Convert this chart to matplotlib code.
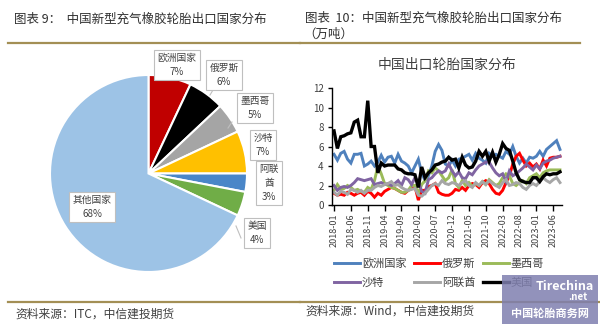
import numpy as np
import pandas as pd
import matplotlib
matplotlib.use('Agg')
import matplotlib.pyplot as plt
from matplotlib.patches import Rectangle
from matplotlib.lines import Line2D

plt.rcParams['font.family'] = ['Noto Sans CJK SC', 'DejaVu Sans']

W, H = 600, 324

# ---- pie data (图表9)
pie_names = ['欧洲国家', '俄罗斯', '墨西哥', '沙特', '阿联酋', '美国', '其他国家']
pie_share = [7, 6, 5, 7, 3, 4, 68]
pie_cols = ['#C00000', '#000000', '#A5A5A5', '#FFC000', '#4A86C8', '#70AD47', '#9DC3E6']

# ---- line data (图表10), 万吨, 2018-01 .. 2023-08
months = pd.period_range('2018-01', periods=68, freq='M').strftime('%Y-%m').tolist()
europe = [5.2, 4.6, 5.3, 5.5, 4.7, 4.3, 5.2, 5.2, 5.3, 4.0, 4.2, 4.5,
          4.0, 4.4, 5.1, 4.4, 4.9, 5.0, 4.3, 5.2, 4.5, 4.3, 4.0, 3.3,
          4.0, 4.7, 3.3, 2.5, 3.0, 4.0, 5.5, 6.2, 5.6, 4.2, 4.0, 4.6,
          4.0, 4.7, 4.8, 5.0, 5.2, 4.6, 5.3, 4.8, 4.6, 4.3, 5.3, 5.0,
          5.2, 5.0, 4.8, 5.5, 5.2, 6.0, 5.0, 4.3, 4.8, 4.3, 4.9, 4.8,
          5.0, 5.5, 5.0, 5.7, 6.0, 6.3, 6.6, 5.7]
russia = [1.2, 1.0, 1.1, 1.0, 1.3, 1.2, 1.0, 1.2, 1.3, 1.0, 1.4, 1.2,
          0.8, 1.2, 1.0, 1.4, 1.6, 1.8, 1.7, 1.5, 1.3, 1.2, 1.5, 1.7,
          1.9, 0.5, 1.5, 1.5, 1.9, 2.0, 2.2, 1.3, 1.1, 1.0, 1.0, 1.2,
          1.6, 1.5, 1.8, 1.5, 2.0, 2.2, 2.1, 1.8, 2.3, 2.5, 2.2, 1.6,
          1.2, 1.1, 1.5, 2.3, 3.0, 4.2, 5.0, 5.3, 4.6, 4.0, 4.3, 3.9,
          4.2, 3.7, 4.6, 4.0, 4.8, 4.9, 4.9, 5.0]
mexico = [1.5, 2.1, 1.6, 1.7, 2.0, 1.8, 1.5, 1.6, 1.4, 1.3, 1.8, 1.6,
          2.5, 4.0, 3.2, 2.2, 2.0, 1.8, 1.7, 1.5, 1.3, 1.3, 1.5, 2.0,
          2.0, 1.2, 2.1, 2.5, 3.5, 3.3, 3.8, 3.5, 3.0, 2.5, 2.8, 3.6,
          2.2, 1.8, 2.5, 2.0, 2.3, 1.9, 2.2, 2.0, 2.4, 2.1, 2.6, 2.3,
          2.0, 2.2, 2.8, 3.2, 3.0, 2.2, 2.0, 2.3, 2.5, 2.2, 2.8, 3.0,
          3.2, 2.8, 3.3, 3.5, 3.6, 3.6, 3.6, 3.6]
saudi = [2.0, 1.5, 1.8, 1.9, 1.8, 2.0, 2.3, 2.7, 2.6, 2.5, 2.6, 2.7,
         2.1, 2.2, 2.3, 2.1, 2.2, 2.0, 2.2, 2.5, 2.0, 2.8, 2.6, 2.1,
         2.8, 2.4, 1.4, 1.2, 2.6, 2.8, 3.2, 3.5, 3.3, 3.5, 4.2, 3.5,
         3.0, 3.4, 2.8, 2.7, 3.3, 3.1, 3.6, 4.0, 4.2, 4.4, 4.4, 3.8,
         3.3, 3.0, 3.2, 2.4, 3.5, 3.0, 3.2, 3.5, 3.8, 4.2, 3.9, 3.6,
         4.1, 3.7, 4.3, 4.5, 4.6, 4.8, 4.9, 5.0]
uae = [1.3, 1.0, 1.4, 1.3, 1.1, 1.6, 1.5, 1.3, 1.5, 1.2, 1.5, 1.5,
       1.8, 2.0, 1.9, 2.1, 2.2, 2.4, 2.0, 2.1, 1.8, 1.6, 1.5, 1.6,
       1.7, 1.0, 0.9, 1.2, 1.6, 2.0, 2.2, 2.0, 2.5, 2.2, 2.1, 2.3,
       2.2, 2.0, 2.3, 2.5, 2.0, 1.8, 2.3, 2.0, 2.4, 2.1, 2.5, 2.2,
       2.0, 1.8, 2.3, 2.6, 2.0, 2.1, 2.3, 2.2, 1.8, 1.6, 2.0, 2.2,
       2.0, 2.4, 2.8, 2.5, 2.3, 2.6, 2.8, 2.3]
usa = [7.6, 5.8, 7.0, 7.1, 7.3, 7.4, 8.5, 8.7, 7.0, 7.0, 10.7, 6.0,
       6.0, 3.3, 4.3, 4.0, 4.1, 4.1, 4.1, 3.7, 3.6, 3.3, 3.2, 3.2,
       3.1, 1.8, 3.9, 2.8, 3.3, 3.6, 4.1, 4.2, 4.4, 4.5, 4.9, 4.6,
       4.7, 3.8, 4.9, 4.1, 3.8, 3.9, 4.5, 5.5, 5.0, 5.5, 4.5, 5.4,
       4.4, 5.2, 6.3, 5.8, 5.6, 4.5, 3.3, 2.6, 2.4, 2.3, 2.3, 2.8,
       2.8, 2.4, 2.9, 3.2, 3.1, 3.2, 3.2, 3.4]
line_names = ['欧洲国家', '俄罗斯', '墨西哥', '沙特', '阿联酋', '美国']
line_cols = ['#4F81BD', '#FF0000', '#9BBB59', '#8064A2', '#A6A6A6', '#000000']


def box(x, y, w, h):
    # pixel box (top-left origin) -> figure fraction rect
    return [x / W, 1 - (y + h) / H, w / W, h / H]


def fx(x):
    return x / W


def fy(y):
    return 1 - y / H


fig = plt.figure(figsize=(6, 3.24), dpi=100)
fig.patch.set_facecolor('white')

gold = '#A38F55'
txtc = '#303030'

# headers
fig.text(fx(14), fy(19), '图表 9：  中国新型充气橡胶轮胎出口国家分布', fontsize=9,
         color=txtc, va='center')
fig.text(fx(305), fy(18), '图表  10：中国新型充气橡胶轮胎出口国家分布', fontsize=9,
         color=txtc, va='center')
fig.text(fx(303), fy(34), '（万吨）', fontsize=9, color=txtc, va='center')
fig.add_artist(Line2D([fx(8), fx(300)], [fy(43), fy(43)], color=gold, lw=1.6))
fig.add_artist(Line2D([fx(300), fx(580)], [fy(43), fy(43)], color=gold, lw=1.6))
fig.add_artist(Line2D([fx(8), fx(300)], [fy(302), fy(302)], color=gold, lw=1.6))
fig.add_artist(Line2D([fx(300), fx(600)], [fy(302), fy(302)], color=gold, lw=1.6))
fig.text(fx(15), fy(314), '资料来源：ITC，中信建投期货', fontsize=8.5, color='#404040',
         va='center', style='italic')
fig.text(fx(305), fy(311), '资料来源：Wind，中信建投期货', fontsize=8.5, color='#404040',
         va='center', style='italic')

# ---- pie
axp = fig.add_axes(box(50, 75, 197, 197))
axp.pie(pie_share, colors=pie_cols, startangle=90, counterclock=False,
        wedgeprops=dict(edgecolor='white', linewidth=1.5))
axp.set_xlim(-1, 1)
axp.set_ylim(-1, 1)
axp.set_aspect('equal')

# callout boxes: (cx, cy) in pixels
lbl_pos = [(177, 65), (224, 75), (255, 108), (263, 145), (269, 183), (257, 233), (92, 207)]
lbl_txt = []
for n, s in zip(pie_names, pie_share):
    if n == '阿联酋':
        lbl_txt.append('阿联\n酋\n%d%%' % s)
    else:
        lbl_txt.append('%s\n%d%%' % (n, s))
for (cx, cy), t in zip(lbl_pos, lbl_txt):
    fig.text(fx(cx), fy(cy), t, fontsize=7, color='#404040', ha='center', va='center',
             linespacing=1.5,
             bbox=dict(boxstyle='square,pad=0.35', fc='white', ec='#BFBFBF', lw=0.8))
# leader lines
for (x0, y0, x1, y1) in [(213, 90, 210, 95), (232, 122, 228, 128), (241, 238, 236, 226)]:
    fig.add_artist(Line2D([fx(x0), fx(x1)], [fy(y0), fy(y1)], color='#BFBFBF', lw=0.8))

# ---- line chart
ax = fig.add_axes(box(332, 88, 230, 117))
x = np.arange(len(months))
series = [europe, russia, mexico, saudi, uae, usa]
handles = []
for vals, name, c in zip(series, line_names, line_cols):
    lw = 2.4 if name == '美国' else 2.1
    h, = ax.plot(x, vals, color=c, lw=lw, label=name, solid_joinstyle='miter')
    handles.append(h)
ax.set_ylim(0, 12)
ax.set_xlim(-0.6, len(months) - 0.4)
ax.set_yticks(range(0, 13, 2))
ax.set_xticks(x[::5])
ax.set_xticklabels(months[::5], rotation=90)
for s in ['top', 'right']:
    ax.spines[s].set_visible(False)
for s in ['left', 'bottom']:
    ax.spines[s].set_color('black')
    ax.spines[s].set_linewidth(1)
ax.tick_params(axis='x', direction='out', length=4, width=1, labelsize=6.5,
               labelcolor='#404040', pad=2)
ax.tick_params(axis='y', direction='out', length=3, width=1, labelsize=7,
               labelcolor='#404040', pad=3)
ax.set_title('中国出口轮胎国家分布', fontsize=10, color='#404040', pad=14)

# legend fills column-wise; reorder so rows read as in the source
order = [0, 3, 1, 4, 2, 5]
ax.legend(handles=[handles[i] for i in order], loc='upper left',
          bbox_to_anchor=(fx(334), fy(258)),
          bbox_transform=fig.transFigure, ncol=3, frameon=False, fontsize=8,
          handlelength=2.3, handletextpad=0.2, columnspacing=0.7, labelspacing=0.75,
          labelcolor='#404040', borderpad=0, borderaxespad=0)

# site watermark
fig.add_artist(Rectangle((fx(502), fy(324)), fx(96), 49 / H, transform=fig.transFigure,
                         fc='#7F7FAF', ec='none', alpha=0.85, zorder=10))
fig.text(fx(565), fy(287), 'Tirechina', fontsize=9, color='white', ha='center',
         va='center', style='italic', weight='bold', zorder=11)
fig.text(fx(578), fy(297), '.net', fontsize=7, color='white', ha='center',
         va='center', style='italic', weight='bold', zorder=11)
fig.text(fx(550), fy(313), '中国轮胎商务网', fontsize=8, color='white', ha='center',
         va='center', weight='bold', zorder=11)

fig.savefig('out.png', dpi=100)
